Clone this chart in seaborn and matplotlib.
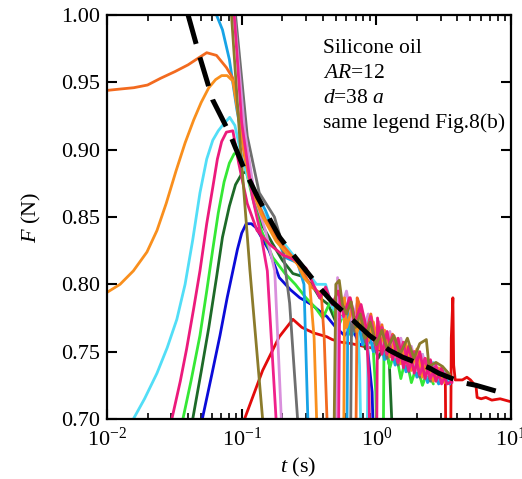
import numpy as np
import pandas as pd
import matplotlib
matplotlib.use("Agg")
import matplotlib.pyplot as plt
import seaborn as sns
from matplotlib.ticker import LogLocator, FixedLocator, FormatStrFormatter, NullFormatter

# ---- force traces F(t) for the jets, time t in s, force F in N ----
do_t = [0.010, 0.0125, 0.0158, 0.020, 0.025, 0.032, 0.040, 0.046, 0.055, 0.065, 0.077, 0.086, 0.095, 0.105,
        0.12, 0.15, 0.19, 0.24, 0.29, 0.33, 0.39, 0.41, 0.43, 0.46, 0.70, 0.72,
        0.75, 0.83, 0.91, 1.0, 1.1, 1.2, 1.32, 1.45, 1.59, 1.74, 1.91, 2.1, 2.3, 2.52, 2.77]
do_F = [0.944, 0.945, 0.946, 0.948, 0.953, 0.958, 0.963, 0.967, 0.972, 0.970, 0.961, 0.953, 0.925, 0.895,
        0.87, 0.848, 0.832, 0.82, 0.808, 0.798, 0.793, 0.76, 0.70, 0.65, 0.65, 0.79,
        0.785, 0.762, 0.778, 0.755, 0.770, 0.748, 0.763, 0.742, 0.757, 0.737, 0.750, 0.733, 0.745, 0.730, 0.738]

lo_t = [0.010, 0.0125, 0.0157, 0.0198, 0.0235, 0.0275, 0.0325, 0.038, 0.044, 0.050, 0.057, 0.064, 0.071,
        0.078, 0.086, 0.10, 0.115, 0.14, 0.18, 0.22, 0.26, 0.29, 0.32, 0.345, 0.36, 0.38, 0.57, 0.58,
        0.60, 0.66, 0.72, 0.79, 0.87, 0.95, 1.05, 1.15, 1.26, 1.38, 1.52, 1.66, 1.82, 2.0, 2.2, 2.4, 2.65, 2.9, 3.2]
lo_F = [0.794, 0.800, 0.810, 0.824, 0.840, 0.860, 0.884, 0.905, 0.922, 0.935, 0.946, 0.952, 0.955,
        0.955, 0.951, 0.91, 0.875, 0.852, 0.832, 0.822, 0.815, 0.805, 0.80, 0.76, 0.70, 0.65, 0.65, 0.79,
        0.768, 0.782, 0.765, 0.776, 0.758, 0.772, 0.752, 0.766, 0.746, 0.760, 0.741, 0.756, 0.736, 0.752, 0.731,
        0.745, 0.728, 0.738, 0.727]

cy_t = [0.0157, 0.019, 0.0235, 0.028, 0.033, 0.038, 0.0433, 0.049, 0.055, 0.061, 0.067, 0.072, 0.0814,
        0.089, 0.10, 0.12, 0.15, 0.19, 0.24, 0.30, 0.36, 0.42, 0.47, 0.55, 0.65, 0.72, 0.75, 0.78, 0.85, 0.87,
        0.95, 1.05, 1.15, 1.26, 1.38, 1.52, 1.66, 1.82, 2.0, 2.2, 2.4, 2.65, 2.9, 3.2, 3.5]
cy_F = [0.70, 0.715, 0.734, 0.753, 0.774, 0.80, 0.833, 0.868, 0.893, 0.907, 0.914, 0.918, 0.924,
        0.918, 0.895, 0.868, 0.85, 0.835, 0.822, 0.81, 0.80, 0.80, 0.783, 0.775, 0.782, 0.78, 0.74, 0.65, 0.65,
        0.775, 0.750, 0.768, 0.745, 0.762, 0.741, 0.758, 0.736, 0.752, 0.733, 0.748, 0.729, 0.742, 0.727,
        0.736, 0.726]

pk_t = [0.0303, 0.035, 0.039, 0.044, 0.049, 0.055, 0.061, 0.066, 0.071, 0.077, 0.086, 0.095, 0.11, 0.13,
        0.16, 0.20, 0.25, 0.30, 0.34, 0.38, 0.42, 0.47, 0.52, 0.58, 0.64, 0.70, 0.77, 0.84, 0.88, 0.90,
        1.0, 1.02, 1.1, 1.2, 1.32, 1.45, 1.59, 1.74, 1.91, 2.1, 2.3, 2.52, 2.77, 3.05, 3.35, 3.65]
pk_F = [0.70, 0.728, 0.752, 0.782, 0.810, 0.845, 0.872, 0.893, 0.906, 0.913, 0.914, 0.89, 0.86, 0.84,
        0.83, 0.822, 0.818, 0.812, 0.80, 0.79, 0.798, 0.785, 0.795, 0.778, 0.79, 0.772, 0.785, 0.768, 0.73, 0.65,
        0.65, 0.775, 0.748, 0.765, 0.744, 0.760, 0.738, 0.754, 0.734, 0.750, 0.730, 0.744, 0.728, 0.738,
        0.726, 0.728]

gr_t = [0.0366, 0.042, 0.049, 0.055, 0.061, 0.067, 0.074, 0.081, 0.088, 0.095, 0.105, 0.12, 0.14, 0.17,
        0.21, 0.25, 0.30, 0.35, 0.40, 0.46, 0.52, 0.58, 0.65, 0.72, 0.80, 0.88, 0.95, 0.99, 1.02, 1.12, 1.14,
        1.26, 1.38, 1.52, 1.66, 1.82, 2.0, 2.2, 2.4, 2.65]
gr_F = [0.70, 0.728, 0.762, 0.795, 0.826, 0.853, 0.876, 0.890, 0.897, 0.897, 0.889, 0.865, 0.84, 0.82,
        0.808, 0.80, 0.79, 0.783, 0.775, 0.788, 0.768, 0.78, 0.762, 0.775, 0.755, 0.768, 0.75, 0.72, 0.65,
        0.65, 0.76, 0.738, 0.752, 0.730, 0.746, 0.727, 0.740, 0.725, 0.736, 0.726]

dg_t = [0.0433, 0.050, 0.057, 0.065, 0.072, 0.081, 0.090, 0.100, 0.109, 0.12, 0.14, 0.17, 0.20, 0.24,
        0.28, 0.33, 0.38, 0.44, 0.50, 0.57, 0.65, 0.74, 0.83, 0.93, 1.03, 1.15, 1.25, 1.3, 1.33]
dg_F = [0.70, 0.735, 0.768, 0.805, 0.835, 0.858, 0.874, 0.882, 0.884, 0.87, 0.845, 0.83, 0.818, 0.808,
        0.806, 0.80, 0.79, 0.785, 0.772, 0.777, 0.762, 0.770, 0.752, 0.762, 0.745, 0.755, 0.74, 0.70, 0.65]

bl_t = [0.051, 0.060, 0.069, 0.078, 0.086, 0.093, 0.100, 0.108, 0.118, 0.128, 0.14, 0.16, 0.19, 0.23,
        0.27, 0.33, 0.38, 0.43, 0.50, 0.58, 0.66, 0.75, 0.85, 0.93, 0.97]
bl_F = [0.70, 0.733, 0.762, 0.790, 0.810, 0.826, 0.838, 0.845, 0.845, 0.842, 0.835, 0.825, 0.805, 0.796,
        0.79, 0.785, 0.78, 0.776, 0.768, 0.762, 0.768, 0.755, 0.757, 0.72, 0.65]

rd_t = [0.105, 0.143, 0.19, 0.24, 0.28, 0.34, 0.43, 0.47, 0.55, 0.65, 0.8, 1.0, 1.3, 1.7, 2.2, 2.8,
        3.25, 3.3, 3.55, 3.6, 3.7, 3.75, 3.85, 4.35, 4.7, 5.0, 5.5, 5.6, 6.0, 6.5, 7.2, 8.3, 9.8]
rd_F = [0.70, 0.736, 0.761, 0.774, 0.768, 0.764, 0.761, 0.759, 0.757, 0.756, 0.754, 0.752, 0.748, 0.744,
        0.740, 0.735, 0.73, 0.65, 0.65, 0.76, 0.79, 0.74, 0.729, 0.729, 0.731, 0.729, 0.724, 0.716, 0.715,
        0.716, 0.714, 0.715, 0.713]

ol_t = [0.080, 0.084, 0.097, 0.115, 0.143, 0.16, 0.48, 0.50, 0.53, 0.56, 0.60, 0.65, 0.70, 0.76, 0.83,
        0.90, 1.0, 1.1, 1.2, 1.35, 1.5, 1.7, 1.9, 2.1, 2.35, 2.46, 2.77, 3.1, 3.5]
ol_F = [1.03, 1.0, 0.907, 0.811, 0.70, 0.65, 0.65, 0.80, 0.803, 0.785, 0.778, 0.787, 0.768, 0.778, 0.760,
        0.772, 0.755, 0.766, 0.752, 0.762, 0.748, 0.760, 0.745, 0.756, 0.759, 0.739, 0.742, 0.739, 0.733]

p2_t = [0.082, 0.088, 0.10, 0.12, 0.14, 0.155, 0.18, 0.19, 0.52, 0.535,
        0.57, 0.63, 0.69, 0.75, 0.83, 0.91, 1.0, 1.1, 1.2, 1.32, 1.45, 1.59, 1.74, 1.91, 2.1, 2.3, 2.52,
        2.77, 3.05, 3.35, 3.65]
p2_F = [1.03, 1.0, 0.92, 0.865, 0.835, 0.81, 0.70, 0.65, 0.65, 0.795,
        0.776, 0.790, 0.770, 0.782, 0.760, 0.776, 0.752, 0.768, 0.748, 0.762, 0.742, 0.757, 0.736, 0.750,
        0.733, 0.745, 0.730, 0.740, 0.726, 0.735, 0.727]

vi_t = [0.084, 0.088, 0.105, 0.125, 0.15, 0.176, 0.197, 0.21, 0.50, 0.515,
        0.55, 0.60, 0.66, 0.72, 0.79, 0.87, 0.95, 1.05, 1.15, 1.26, 1.38, 1.52, 1.66, 1.82, 2.0, 2.2, 2.4]
vi_F = [1.03, 1.0, 0.915, 0.865, 0.84, 0.81, 0.70, 0.65, 0.65, 0.805,
        0.782, 0.795, 0.772, 0.786, 0.765, 0.778, 0.758, 0.772, 0.752, 0.765, 0.746, 0.760, 0.741, 0.754,
        0.736, 0.748, 0.733]

gy_t = [0.086, 0.09, 0.11, 0.135, 0.175, 0.2, 0.227, 0.26, 0.28, 0.64, 0.655,
        0.69, 0.75, 0.83, 0.91, 1.0, 1.1, 1.2, 1.32, 1.45, 1.59, 1.74, 1.91, 2.1, 2.3, 2.52, 2.77, 3.05]
gy_F = [1.03, 1.0, 0.91, 0.868, 0.85, 0.83, 0.786, 0.70, 0.65, 0.65, 0.78,
        0.765, 0.776, 0.757, 0.770, 0.750, 0.763, 0.745, 0.757, 0.740, 0.752, 0.735, 0.747, 0.731, 0.741,
        0.728, 0.735, 0.729]

sb_t = [0.062, 0.065, 0.072, 0.081, 0.092, 0.115, 0.15, 0.21, 0.26, 0.29, 0.31, 0.33, 0.60, 0.615,
        0.66, 0.72, 0.79, 0.87, 0.95, 1.05, 1.15, 1.26, 1.38, 1.52, 1.66, 1.82, 2.0, 2.2, 2.4, 2.65, 2.9,
        3.2, 3.5]
sb_F = [1.02, 1.0, 0.989, 0.967, 0.93, 0.877, 0.855, 0.82, 0.816, 0.80, 0.70, 0.65, 0.65, 0.785,
        0.762, 0.776, 0.755, 0.768, 0.750, 0.762, 0.744, 0.756, 0.740, 0.750, 0.735, 0.745, 0.731, 0.740,
        0.727, 0.735, 0.726, 0.730, 0.726]

# envelope of the decaying force (dashed)
env_t = [0.040, 0.0488, 0.0609, 0.0814, 0.105, 0.131, 0.191, 0.228, 0.39, 0.47, 0.71, 0.89, 1.25, 1.56,
         2.46, 2.9, 4.35, 5.5, 8.2]
env_F = [1.0, 0.969, 0.937, 0.912, 0.885, 0.865, 0.835, 0.825, 0.796, 0.787, 0.771, 0.762, 0.751, 0.746,
         0.738, 0.734, 0.727, 0.725, 0.720]

y_ticks = [0.70, 0.75, 0.80, 0.85, 0.90, 0.95, 1.00]
note_lines = ["Silicone oil", "$AR$=12", "$d$=38 $a$", "same legend Fig.8(b)"]

# drawing order (first drawn lies underneath)
traces = [
    ("red", rd_t, rd_F), ("blue", bl_t, bl_F), ("darkgreen", dg_t, dg_F), ("green", gr_t, gr_F),
    ("cyan", cy_t, cy_F), ("skyblue", sb_t, sb_F), ("grey", gy_t, gy_F), ("violet", vi_t, vi_F),
    ("darkorange", do_t, do_F), ("orange", lo_t, lo_F), ("pink2", p2_t, p2_F), ("pink", pk_t, pk_F),
    ("olive", ol_t, ol_F),
]
palette = {
    "red": "#e30b0b", "blue": "#0b0bd9", "darkgreen": "#1d6a28", "green": "#35e835",
    "cyan": "#52def7", "skyblue": "#17a3e6", "grey": "#6e6e6e", "violet": "#d98fdc",
    "darkorange": "#f26a1f", "orange": "#f98f1d", "pink2": "#f0208a", "pink": "#ec1a7c",
    "olive": "#8b7b2b",
}

frames = [pd.DataFrame({"t": t, "F": f, "series": name}) for name, t, f in traces]
df = pd.concat(frames, ignore_index=True)

sns.set_theme(style="ticks")
plt.rcParams["font.family"] = ["Liberation Serif", "DejaVu Serif"]
plt.rcParams["mathtext.fontset"] = "custom"
plt.rcParams["mathtext.rm"] = "Liberation Serif"
plt.rcParams["mathtext.it"] = "Liberation Serif:italic"
for key in ["text.color", "axes.labelcolor", "xtick.color", "ytick.color", "axes.edgecolor"]:
    plt.rcParams[key] = "black"

fig = plt.figure(figsize=(5.22, 4.79), dpi=100)
ax = fig.add_axes([0.205, 0.1253, 0.774, 0.8434])
ax.set_xscale("log")

sns.lineplot(data=df, x="t", y="F", hue="series", hue_order=[n for n, _, _ in traces],
             palette=palette, estimator=None, sort=False, linewidth=2.0, legend=False, ax=ax)
sns.lineplot(x=env_t, y=env_F, color="black", linewidth=3.6, linestyle=(0, (6, 2.8)),
             estimator=None, sort=False, ax=ax, zorder=3)

ax.set_xlim(0.01, 10)
ax.set_ylim(0.70, 1.00)
ax.yaxis.set_major_locator(FixedLocator(y_ticks))
ax.yaxis.set_major_formatter(FormatStrFormatter("%.2f"))
ax.xaxis.set_major_locator(LogLocator(base=10))
ax.xaxis.set_minor_locator(LogLocator(base=10, subs=np.arange(2, 10)))
ax.xaxis.set_minor_formatter(NullFormatter())

ax.tick_params(which="both", direction="in", top=True, right=True, labelsize=16)
ax.tick_params(which="major", length=7, width=1.5)
ax.tick_params(which="minor", length=4, width=1.2)
ax.tick_params(axis="x", which="major", pad=6)
ax.tick_params(axis="y", which="major", pad=5)
for sp in ax.spines.values():
    sp.set_linewidth(1.6)
    sp.set_color("black")

ax.set_xlabel("$t$ (s)", fontsize=16)
ax.set_ylabel("$F$ (N)", fontsize=16)
ax.xaxis.set_label_coords(0.473, -0.092)
ax.yaxis.set_label_coords(-0.158, 0.5)

for i, line in enumerate(note_lines):
    ax.text(0.535, 0.906 - i * 0.0615, line, transform=ax.transAxes, fontsize=15.5,
            ha="left", va="baseline")

fig.savefig("out.png", dpi=100)
